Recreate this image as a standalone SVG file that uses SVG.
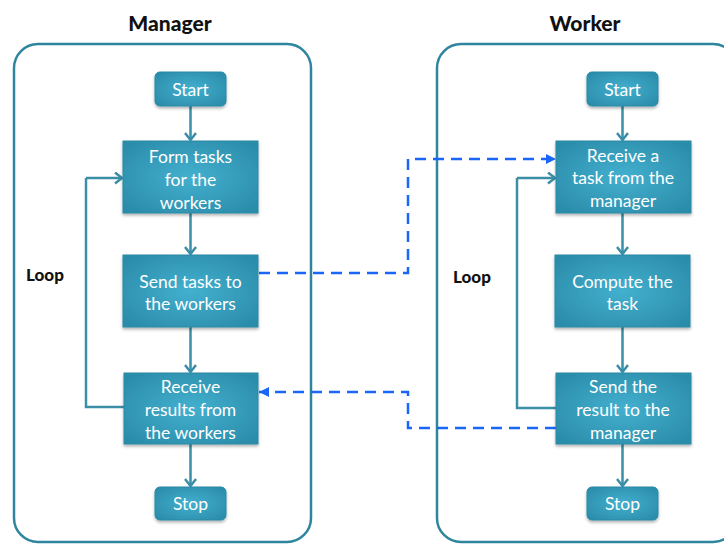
<svg xmlns="http://www.w3.org/2000/svg" width="724" height="544" viewBox="0 0 724 544">
  <style>
    .lane { fill: #ffffff; stroke: #2f859e; stroke-width: 2.5; }
    .title { font-family: Lato, "Open Sans", "Liberation Sans", sans-serif; font-weight: 900; font-size: 21px; fill: #111; text-anchor: middle; }
    .loop { font-family: Lato, "Open Sans", "Liberation Sans", sans-serif; font-weight: 900; font-size: 17px; fill: #111; }
    .box { fill: url(#teal); stroke: #2a8aa6; stroke-width: 1; filter: url(#shadow); }
    .label { font-family: Lato, "Open Sans", "Liberation Sans", sans-serif; font-size: 17.5px; fill: #ffffff; text-anchor: middle; }
    .flow { fill: none; stroke: #3a8ea6; stroke-width: 2.5; marker-end: url(#chev); }
    .loopline { fill: none; stroke: #3a8ea6; stroke-width: 2.5; }
    .msg { fill: none; stroke: #1a66f8; stroke-width: 2.5; stroke-dasharray: 11 7; marker-end: url(#tri); }
  </style>
  <defs>
    <radialGradient id="teal" cx="50%" cy="50%" r="65%">
      <stop offset="0" stop-color="#43b0cf"/>
      <stop offset="1" stop-color="#2a8ca9"/>
    </radialGradient>
    <filter id="shadow" x="-10%" y="-10%" width="120%" height="130%">
      <feDropShadow dx="0" dy="2" stdDeviation="1.5" flood-color="#000" flood-opacity="0.3"/>
    </filter>
    <marker id="chev" markerUnits="userSpaceOnUse" markerWidth="14" markerHeight="14" refX="8" refY="6" orient="auto">
      <path d="M1,0.5 L8,6 L1,11.5" fill="none" stroke="#3a8ea6" stroke-width="2.5"/>
    </marker>
    <marker id="tri" markerUnits="userSpaceOnUse" markerWidth="14" markerHeight="14" refX="10" refY="5" orient="auto">
      <path d="M0,0 L10,5 L0,10 Z" fill="#1a66f8"/>
    </marker>
  </defs>

  <!-- swimlanes -->
  <rect class="lane" x="14" y="44" width="297" height="498" rx="24"/>
  <rect class="lane" x="437" y="44" width="300" height="498" rx="24"/>
  <text class="title" x="170" y="31">Manager</text>
  <text class="title" x="585" y="31">Worker</text>
  <text class="loop" x="26" y="281">Loop</text>
  <text class="loop" x="453" y="283">Loop</text>

  <!-- connectors -->
  <g id="connectors">
    <path class="flow" d="M190.5,106 V140"/>
    <path class="flow" d="M190.5,213 V254"/>
    <path class="flow" d="M190.5,327 V372"/>
    <path class="flow" d="M190.5,444 V486"/>
    <path class="loopline" d="M124,407 H86 V178"/>
    <path class="flow" d="M86,178 H122"/>

    <path class="flow" d="M622.5,106 V140"/>
    <path class="flow" d="M622.5,213 V254"/>
    <path class="flow" d="M622.5,327 V372"/>
    <path class="flow" d="M622.5,444 V486"/>
    <path class="loopline" d="M556,408 H517 V178"/>
    <path class="flow" d="M517,178 H555"/>

    <path class="msg" d="M259,273 H408 V159 H556"/>
    <path class="msg" d="M556,428 H408 V392 H259"/>
  </g>

  <!-- manager nodes -->
  <g id="m-start">
    <rect class="box" x="155" y="72" width="71" height="34" rx="5"/>
    <text class="label" x="190.5" y="95.5">Start</text>
  </g>
  <g id="m-form">
    <rect class="box" x="123" y="141" width="135" height="72"/>
    <text class="label" x="190.5" y="163">Form tasks</text>
    <text class="label" x="190.5" y="186">for the</text>
    <text class="label" x="190.5" y="208.5">workers</text>
  </g>
  <g id="m-send">
    <rect class="box" x="123" y="255" width="135" height="72"/>
    <text class="label" x="190.5" y="288">Send tasks to</text>
    <text class="label" x="190.5" y="309.5">the workers</text>
  </g>
  <g id="m-recv">
    <rect class="box" x="124" y="373" width="134" height="71"/>
    <text class="label" x="190.5" y="393">Receive</text>
    <text class="label" x="190.5" y="416">results from</text>
    <text class="label" x="190.5" y="439">the workers</text>
  </g>
  <g id="m-stop">
    <rect class="box" x="155" y="487" width="71" height="33" rx="5"/>
    <text class="label" x="190.5" y="510">Stop</text>
  </g>

  <!-- worker nodes -->
  <g id="w-start">
    <rect class="box" x="587" y="72" width="71" height="34" rx="5"/>
    <text class="label" x="622.5" y="95.5">Start</text>
  </g>
  <g id="w-recv">
    <rect class="box" x="556" y="141" width="135" height="72"/>
    <text class="label" x="623" y="161.5">Receive a</text>
    <text class="label" x="623" y="184">task from the</text>
    <text class="label" x="623" y="206.5">manager</text>
  </g>
  <g id="w-compute">
    <rect class="box" x="555" y="255" width="135" height="72"/>
    <text class="label" x="622.5" y="288">Compute the</text>
    <text class="label" x="622.5" y="309.5">task</text>
  </g>
  <g id="w-send">
    <rect class="box" x="556" y="373" width="135" height="71"/>
    <text class="label" x="623" y="393">Send the</text>
    <text class="label" x="623" y="416">result to the</text>
    <text class="label" x="623" y="439">manager</text>
  </g>
  <g id="w-stop">
    <rect class="box" x="587" y="487" width="71" height="33" rx="5"/>
    <text class="label" x="622.5" y="510">Stop</text>
  </g>
</svg>
